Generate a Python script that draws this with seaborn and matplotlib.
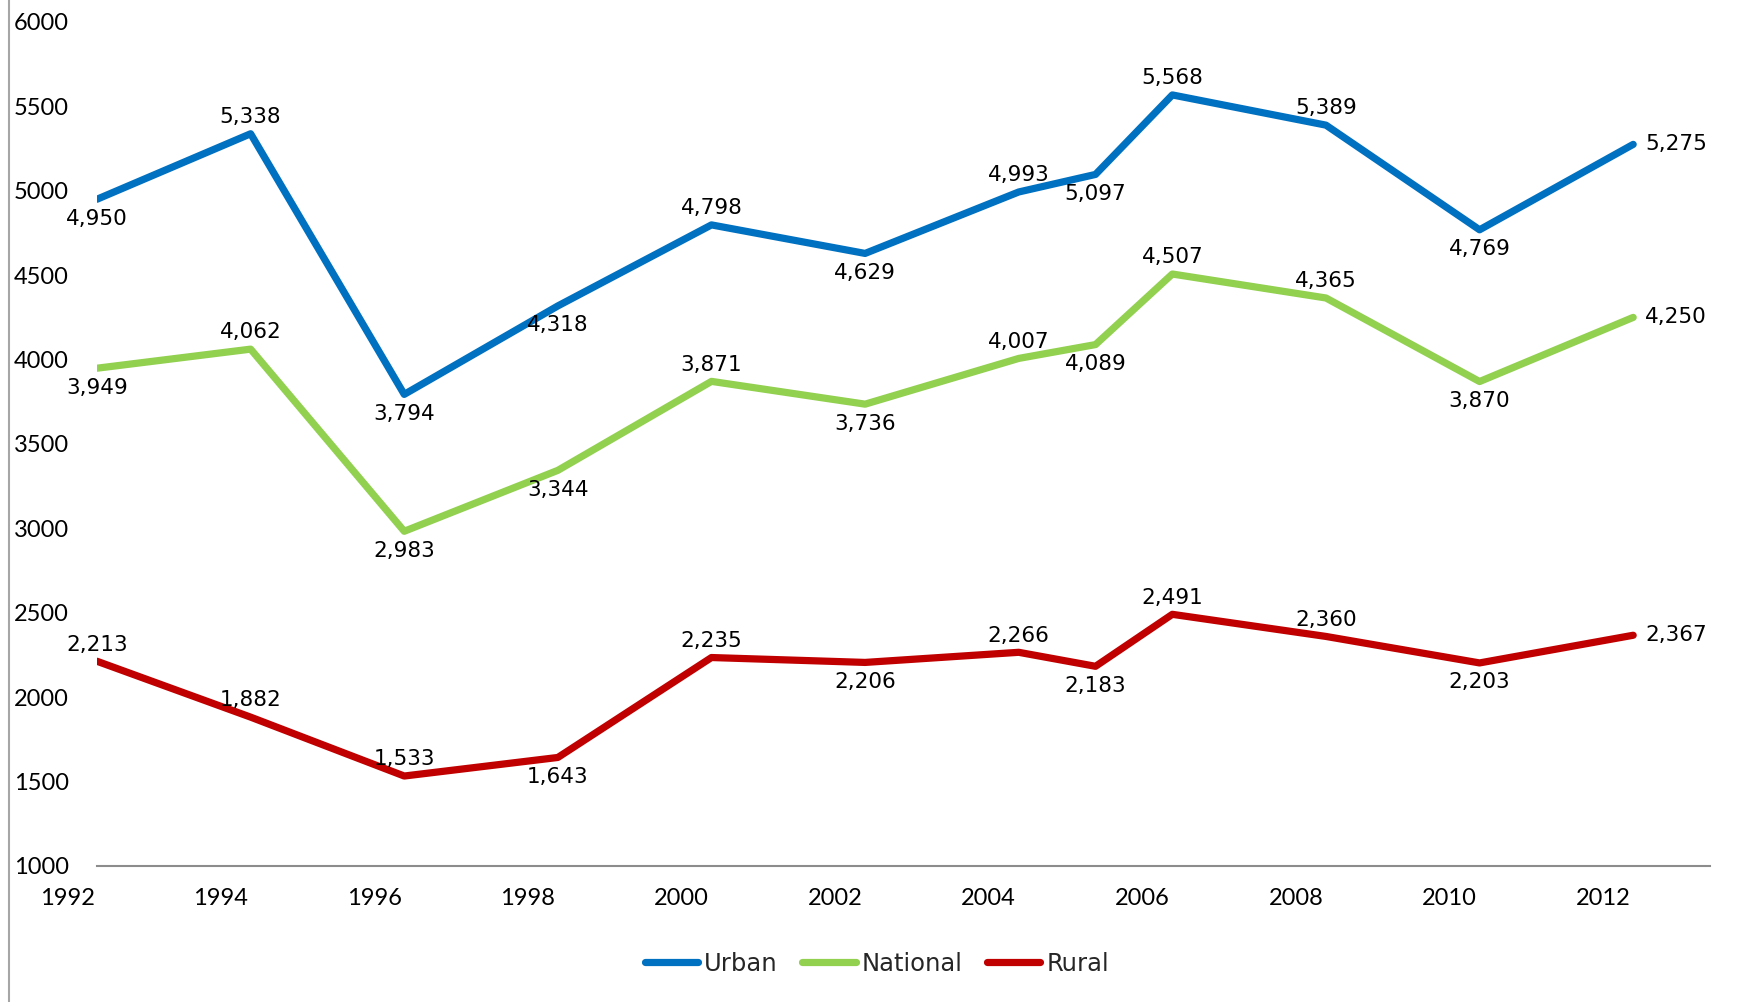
import numpy as np
import pandas as pd
import seaborn as sns
import matplotlib.pyplot as plt
from matplotlib import transforms
from matplotlib.lines import Line2D

# ---- data ----
years = [1992, 1994, 1996, 1998, 2000, 2002, 2004, 2005, 2006, 2008, 2010, 2012]
urban = [4950, 5338, 3794, 4318, 4798, 4629, 4993, 5097, 5568, 5389, 4769, 5275]
national = [3949, 4062, 2983, 3344, 3871, 3736, 4007, 4089, 4507, 4365, 3870, 4250]
rural = [2213, 1882, 1533, 1643, 2235, 2206, 2266, 2183, 2491, 2360, 2203, 2367]
series_names = ["Urban", "National", "Rural"]
tick_years = [1992, 1994, 1996, 1998, 2000, 2002, 2004, 2006, 2008, 2010, 2012]
y_ticks = [1000, 1500, 2000, 2500, 3000, 3500, 4000, 4500, 5000, 5500, 6000]

# data-label placement per point
urban_label_pos = ["below", "above", "below", "below", "above", "below",
                   "above", "below", "above", "above", "below", "right"]
national_label_pos = ["below", "above", "below", "below", "above", "below",
                      "above", "below", "above", "above", "below", "right"]
rural_label_pos = ["above", "above", "above", "below", "above", "below",
                   "above", "below", "above", "above", "below", "right"]

colors = {"Urban": "#0070C0", "National": "#92D050", "Rural": "#C00000"}

df = pd.DataFrame({
    "Year": years * 3,
    "Value": urban + national + rural,
    "Series": [n for n in series_names for _ in years],
})

sns.set_style("white")
plt.rcParams["font.family"] = ["DejaVu Sans"]

W, H = 1747, 1002
fig = plt.figure(figsize=(W / 100, H / 100), dpi=100)
ax = fig.add_axes([97 / W, 1 - 866 / H, 1613 / W, (866 - 22) / H])

sns.lineplot(data=df, x="Year", y="Value", hue="Series", hue_order=series_names,
             palette=colors, linewidth=5.2, ax=ax, estimator=None, sort=False,
             solid_capstyle="round", solid_joinstyle="round")

ax.set_xlim(1992, 2013)
ax.set_ylim(1000, 6000)
ax.set_xlabel("")
ax.set_ylabel("")

for s in ["top", "right", "left"]:
    ax.spines[s].set_visible(False)
ax.spines["bottom"].set_color("#8C8C8C")
ax.spines["bottom"].set_linewidth(1.5)

ax.set_xticks(tick_years)
ax.set_xticklabels([str(y) for y in tick_years], fontfamily="Lato", fontsize=17)
ax.set_yticks(y_ticks)
ax.set_yticklabels([str(y) for y in y_ticks], fontfamily="Lato", fontsize=17, ha="left")
ax.tick_params(axis="x", length=0, pad=16, colors="black")
ax.tick_params(axis="y", length=0, pad=60, colors="black")
shift = transforms.ScaledTranslation(-0.30, 0, fig.dpi_scale_trans)
for lbl in ax.get_xticklabels():
    lbl.set_transform(lbl.get_transform() + shift)

# data labels
for vals, poss in [(urban, urban_label_pos), (national, national_label_pos), (rural, rural_label_pos)]:
    for x, v, p in zip(years, vals, poss):
        if p == "above":
            off, ha = (0, 12), "center"
        elif p == "below":
            off, ha = (0, -14), "center"
        else:
            off, ha = (8.5, 0), "left"
        ax.annotate(f"{v:,}", (x, v), xytext=off, textcoords="offset points",
                    ha=ha, va="center", fontsize=15.5, color="black",
                    annotation_clip=False)

# legend
handles, labels = ax.get_legend_handles_labels()
ax.get_legend().remove()
fig.legend(handles, labels, loc="center", bbox_to_anchor=(0.502, 0.038),
           ncol=3, frameon=False, fontsize=17.5, handlelength=2.2,
           handletextpad=0.25, columnspacing=1.0)

# left border line of the chart area
fig.add_artist(Line2D([9 / W, 9 / W], [0, 1], transform=fig.transFigure,
                      color="#A6A6A6", linewidth=1.5))

fig.savefig("out.png", dpi=100)
